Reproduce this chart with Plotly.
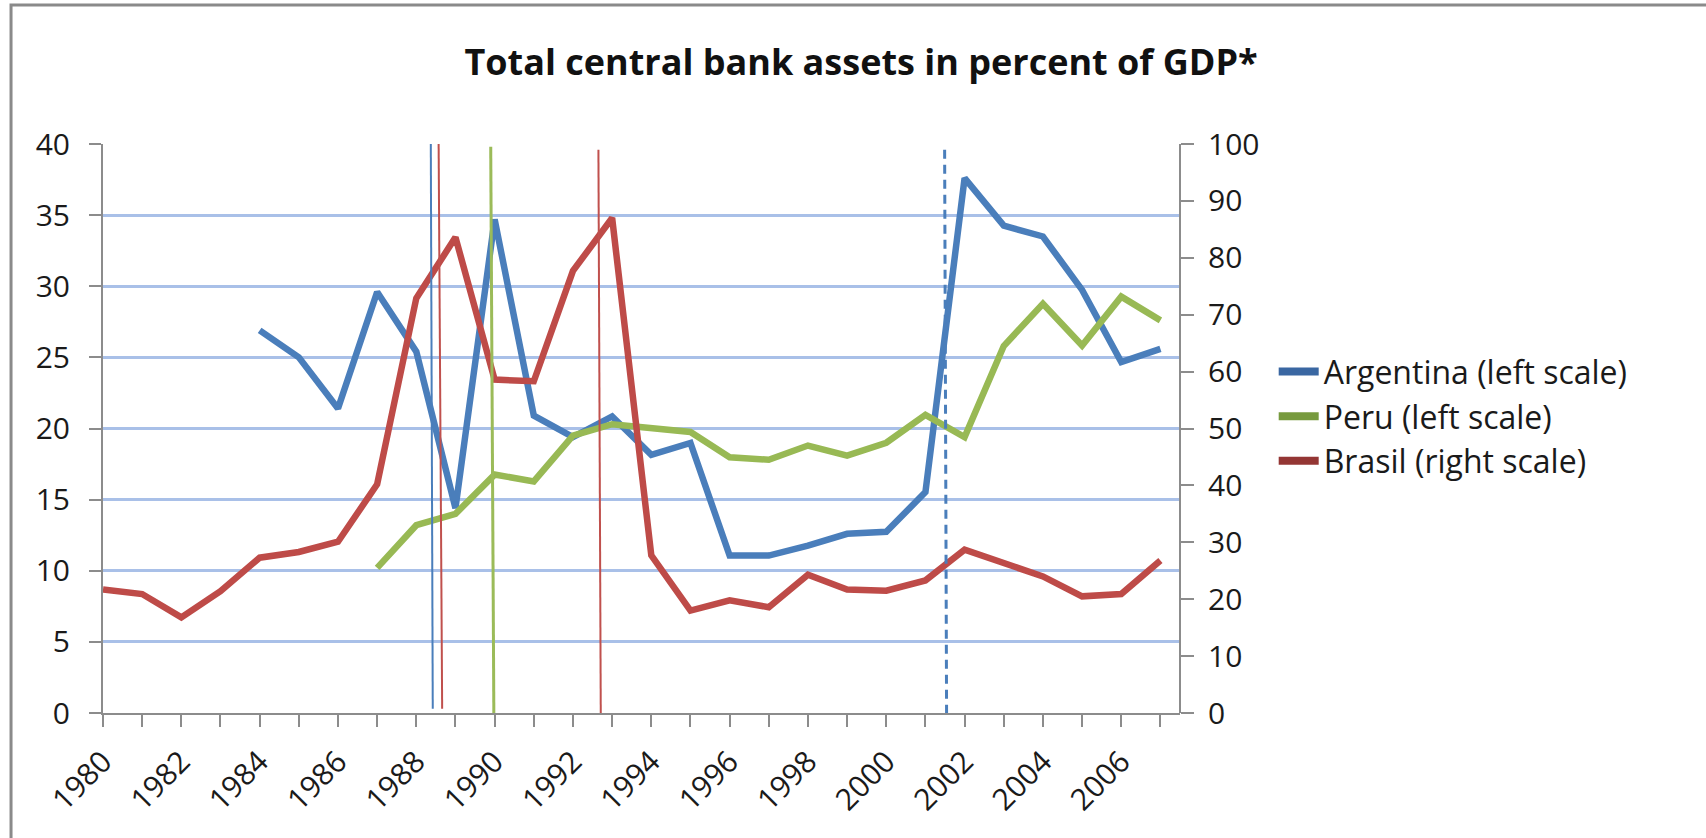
import plotly.graph_objects as go

# Years on the category axis
years = list(range(1980, 2008))

# Total central bank assets, percent of GDP
argentina = [None, None, None, None, 26.9, 25.0, 21.4, 29.6, 25.4, 14.4,
             34.7, 20.9, 19.4, 20.85, 18.15, 18.98, 11.07, 11.07, 11.76, 12.6,
             12.74, 15.53, 37.6, 34.26, 33.5, 29.74, 24.67, 25.6]
peru = [None, None, None, None, None, None, None, 10.2, 13.2, 14.0,
        16.76, 16.28, 19.5, 20.3, 20.05, 19.76, 17.98, 17.8, 18.8, 18.1,
        19.0, 20.96, 19.4, 25.8, 28.77, 25.84, 29.27, 27.6]
brasil = [21.7, 20.9, 16.8, 21.4, 27.3, 28.3, 30.1, 40.2, 72.9, 83.6,
          58.6, 58.3, 77.7, 87.0, 27.7, 18.0, 19.8, 18.6, 24.3, 21.7,
          21.5, 23.3, 28.7, 26.4, 24.0, 20.5, 20.9, 26.8]

left_ticks = list(range(0, 41, 5))
right_ticks = list(range(0, 101, 10))
year_labels = list(range(1980, 2007, 2))

series_names = ["Argentina (left scale)", "Peru (left scale)", "Brasil (right scale)"]
line_colors = ["#4A7EBB", "#98B954", "#BE4B48"]
swatch_colors = ["#3A67A2", "#779A3E", "#943634"]

FONT = "Open Sans"
TXT = "#1a1a1a"
AXIS = "#8c8c8c"
GRID = "#A9C0E8"

fig = go.Figure()

fig.add_trace(go.Scatter(x=years, y=argentina, mode="lines", name=series_names[0],
                         line=dict(color=line_colors[0], width=6.5), showlegend=False,
                         yaxis="y"))
fig.add_trace(go.Scatter(x=years, y=peru, mode="lines", name=series_names[1],
                         line=dict(color=line_colors[1], width=6.5), showlegend=False,
                         yaxis="y"))
fig.add_trace(go.Scatter(x=years, y=brasil, mode="lines", name=series_names[2],
                         line=dict(color=line_colors[2], width=6.5), showlegend=False,
                         yaxis="y2"))

# legend entries with the darker swatch colours
for name, col in zip(series_names, swatch_colors):
    fig.add_trace(go.Scatter(x=[None], y=[None], mode="lines", name=name,
                             line=dict(color=col, width=8), showlegend=True))

# event markers drawn across the plot (left-scale units)
markers = [
    dict(x0=1988.37, x1=1988.42, y0=40.0, y1=0.3, color="#4A7EBB", width=2, dash="solid"),
    dict(x0=1988.57, x1=1988.66, y0=40.0, y1=0.3, color="#C0504D", width=2, dash="solid"),
    dict(x0=1989.90, x1=1989.98, y0=39.8, y1=0.0, color="#9BBB59", width=3, dash="solid"),
    dict(x0=1992.65, x1=1992.71, y0=39.6, y1=0.0, color="#C0504D", width=2, dash="solid"),
    dict(x0=2001.49, x1=2001.54, y0=39.6, y1=0.0, color="#4A7EBB", width=3, dash="9px,6px"),
]
shapes = []
for m in markers:
    shapes.append(dict(type="line", xref="x", yref="y", x0=m["x0"], x1=m["x1"],
                       y0=m["y0"], y1=m["y1"],
                       line=dict(color=m["color"], width=m["width"], dash=m["dash"])))

# outer chart frame
shapes.append(dict(type="rect", xref="paper", yref="paper", x0=-0.0854, x1=1.6,
                   y0=-0.4, y1=1.2443, line=dict(color="#8a8a8a", width=3),
                   fillcolor="rgba(0,0,0,0)", layer="below"))

fig.update_layout(
    width=1706, height=838,
    margin=dict(l=103, r=526, t=144, b=125, pad=0),
    paper_bgcolor="white", plot_bgcolor="white",
    font=dict(family=FONT, size=29, color=TXT),
    title=dict(text="<b>Total central bank assets in percent of GDP*</b>",
               x=861 / 1706, xanchor="center", xref="container",
               y=1 - 62 / 838, yanchor="middle", yref="container",
               font=dict(family=FONT, size=36, color="#111")),
    xaxis=dict(range=[1980, 2007.5], tickmode="array", tickvals=year_labels,
               ticktext=[str(v) for v in year_labels], tickangle=-45,
               ticks="outside", ticklen=12, tickwidth=2, tickcolor=AXIS,
               minor=dict(dtick=1, tick0=1980, ticks="outside", ticklen=12,
                          tickwidth=2, tickcolor=AXIS, showgrid=False),
               showline=True, linecolor=AXIS, linewidth=2, showgrid=False,
               zeroline=False, ticklabelstandoff=5, automargin=False,
               tickfont=dict(size=30, color=TXT)),
    yaxis=dict(range=[0, 40], tickmode="array", tickvals=left_ticks,
               ticks="outside", ticklen=12, tickwidth=2, tickcolor=AXIS,
               showline=True, linecolor=AXIS, linewidth=2,
               showgrid=True, gridcolor=GRID, gridwidth=2.5, zeroline=False,
               ticklabelstandoff=13, automargin=False,
               tickfont=dict(size=30, color=TXT)),
    yaxis2=dict(range=[0, 100], tickmode="array", tickvals=right_ticks,
                overlaying="y", side="right", anchor="free", position=1.0,
                ticks="outside", ticklen=13, tickwidth=2, tickcolor=AXIS,
                showline=True, linecolor=AXIS, linewidth=2,
                showgrid=False, zeroline=False, automargin=False,
                ticklabelstandoff=8, tickfont=dict(size=30, color=TXT)),
    legend=dict(x=1.087, y=0.648, xanchor="left", yanchor="top",
                bgcolor="rgba(0,0,0,0)", font=dict(family=FONT, size=32, color=TXT),
                itemwidth=40, tracegroupgap=0),
    shapes=shapes,
)

fig.write_html("out.html")
